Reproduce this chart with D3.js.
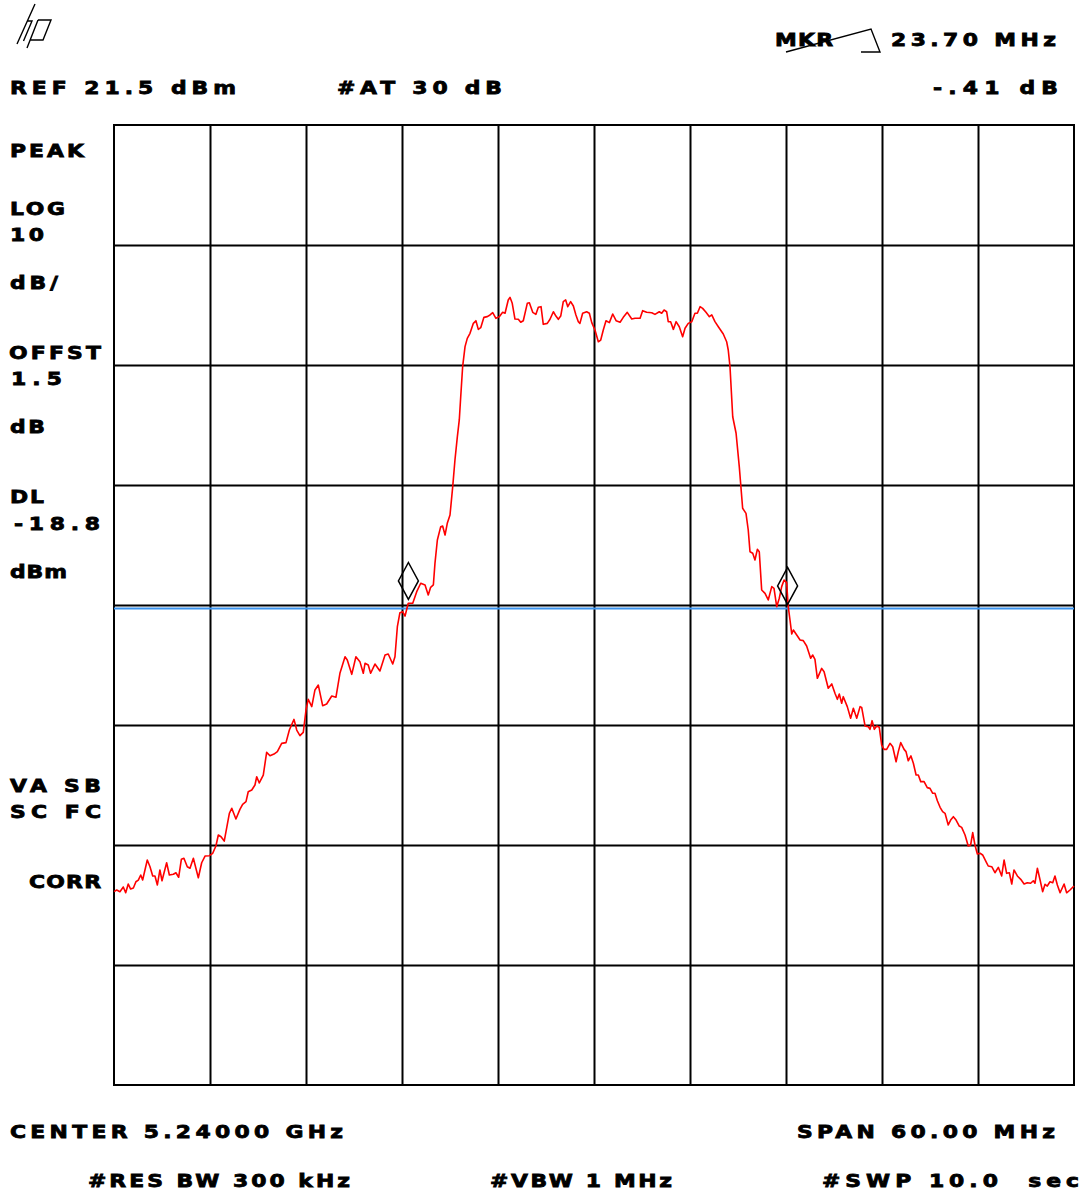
<!DOCTYPE html>
<html>
<head>
<meta charset="utf-8">
<script src="https://cdn.jsdelivr.net/npm/d3@7"></script>
<style>
  html, body { margin: 0; padding: 0; background: #fff; }
  svg { display: block; }
  .lbl { font-family: "DejaVu Sans", sans-serif; font-weight: bold; font-size: 17.5px; fill: #000; stroke: #000; stroke-width: 0.8; white-space: pre; }
</style>
</head>
<body>
<svg id="chart"></svg>
<script>
// analyzer settings
const refLevel = 21.5;      // dBm, top graticule line
const dbPerDiv = 10;
const levelDivs = 8;
const centerGHz = 5.24;
const spanMHz = 60;
const displayLine = -18.8;  // dBm

// graticule lines (offset from centre, MHz) and level lines (dBm)
const freqGridMHz = [-24, -18, -12, -6, 0, 6, 12, 18, 24];
const levelGridDbm = [11.5, 1.5, -8.5, -18.5, -28.5, -38.5, -48.5];

// delta markers
const markerOffsetMHz = [-11.6, 12.1];
const markerLevelDbm = [-18.04, -18.45];

// trace: offset from centre (MHz) and level (dBm)
const traceOffsetMHz = [
  -30.00, -29.83, -29.63, -29.42, -29.27, -29.11, -28.96, -28.79, -28.63, -28.48,
  -28.33, -28.21, -27.92, -27.75, -27.58, -27.44, -27.29, -27.13, -27.00, -26.71,
  -26.54, -26.29, -26.13, -25.96, -25.79, -25.63, -25.42, -25.25, -25.04, -24.73,
  -24.52, -24.31, -24.04, -23.83, -23.63, -23.48, -23.31, -23.11, -22.79, -22.64,
  -22.38, -22.13, -21.96, -21.75, -21.61, -21.39, -21.19, -21.08, -20.92, -20.67,
  -20.46, -20.25, -20.00, -19.79, -19.52, -19.25, -19.04, -18.75, -18.58, -18.38,
  -18.17, -18.00, -17.86, -17.64, -17.44, -17.23, -16.96, -16.71, -16.39, -16.13,
  -15.88, -15.56, -15.42, -15.14, -14.88, -14.63, -14.42, -14.31, -14.11, -13.96,
  -13.69, -13.38, -13.06, -12.86, -12.58, -12.44, -12.29, -12.13, -11.96, -11.81,
  -11.61, -11.33, -11.08, -10.83, -10.56, -10.36, -10.21, -10.04, -9.94, -9.79,
  -9.58, -9.46, -9.31, -9.17, -9.00, -8.83, -8.69, -8.54, -8.42, -8.33,
  -8.21, -8.06, -7.92, -7.75, -7.54, -7.38, -7.23, -7.08, -6.88, -6.67,
  -6.50, -6.33, -6.13, -5.92, -5.71, -5.56, -5.36, -5.25, -5.11, -4.94,
  -4.73, -4.58, -4.42, -4.17, -4.04, -3.83, -3.63, -3.48, -3.31, -3.17,
  -2.92, -2.75, -2.54, -2.38, -2.23, -2.08, -1.92, -1.77, -1.64, -1.46,
  -1.29, -1.13, -0.98, -0.88, -0.71, -0.46, -0.29, -0.14, 0.06, 0.27,
  0.42, 0.58, 0.75, 0.96, 1.17, 1.38, 1.63, 1.83, 2.08, 2.36,
  2.56, 2.88, 3.04, 3.29, 3.61, 3.81, 4.08, 4.23, 4.38, 4.54,
  4.64, 4.79, 4.96, 5.13, 5.33, 5.54, 5.69, 5.89, 6.11, 6.31,
  6.46, 6.63, 6.79, 7.00, 7.21, 7.36, 7.56, 7.77, 8.08, 8.29,
  8.39, 8.50, 8.67, 8.88, 9.08, 9.29, 9.50, 9.64, 9.75, 9.92,
  10.06, 10.21, 10.33, 10.48, 10.69, 10.89, 11.11, 11.25, 11.42, 11.58,
  11.73, 11.88, 12.04, 12.14, 12.25, 12.36, 12.46, 12.67, 12.88, 13.08,
  13.29, 13.54, 13.67, 13.81, 13.96, 14.23, 14.38, 14.64, 14.86, 15.06,
  15.21, 15.33, 15.48, 15.58, 15.83, 16.04, 16.21, 16.42, 16.63, 16.73,
  16.94, 17.14, 17.25, 17.38, 17.52, 17.67, 17.83, 17.98, 18.13, 18.29,
  18.50, 18.67, 18.88, 19.02, 19.17, 19.38, 19.50, 19.64, 19.81, 19.96,
  20.13, 20.27, 20.42, 20.63, 20.83, 21.00, 21.17, 21.31, 21.46, 21.63,
  21.79, 21.94, 22.14, 22.29, 22.46, 22.63, 22.83, 22.98, 23.19, 23.39,
  23.54, 23.67, 23.81, 23.96, 24.13, 24.29, 24.50, 24.64, 24.86, 25.06,
  25.27, 25.48, 25.63, 25.79, 25.96, 26.11, 26.25, 26.46, 26.67, 26.88,
  27.08, 27.29, 27.46, 27.56, 27.71, 27.88, 28.04, 28.19, 28.33, 28.50,
  28.67, 28.81, 28.96, 29.13, 29.38, 29.54, 29.75, 30.00
];
const traceLevelDbm = [
  -42.39, -42.25, -42.39, -42.00, -42.48, -41.75, -42.17, -42.08, -41.56, -41.42,
  -41.00, -41.42, -39.75, -40.31, -41.08, -41.08, -41.83, -40.58, -41.48, -39.98,
  -41.00, -40.94, -40.81, -41.19, -39.69, -39.61, -40.31, -40.44, -39.61, -41.23,
  -39.98, -39.42, -39.39, -39.19, -38.58, -37.67, -37.81, -38.17, -35.86, -35.44,
  -36.33, -35.53, -35.11, -34.89, -34.06, -33.92, -33.50, -32.81, -33.33, -32.67,
  -30.78, -31.06, -30.92, -30.72, -30.03, -29.97, -28.92, -28.03, -28.92, -29.39,
  -29.11, -27.25, -26.36, -26.97, -25.58, -25.17, -26.89, -26.75, -26.08, -26.19,
  -24.19, -22.81, -23.08, -24.28, -22.81, -23.22, -24.19, -23.36, -23.50, -24.19,
  -23.42, -24.00, -22.67, -22.58, -23.42, -22.81, -20.31, -19.14, -19.06, -19.42,
  -18.36, -18.36, -17.39, -16.69, -16.83, -17.67, -17.03, -16.83, -15.03, -13.08,
  -11.97, -11.92, -12.67, -11.69, -11.00, -8.64, -6.42, -4.47, -3.08, -1.14,
  1.36, 3.03, 3.72, 4.14, 4.97, 5.19, 4.47, 4.61, 5.47, 5.53,
  5.67, 5.86, 5.39, 5.53, 5.89, 5.81, 6.92, 7.14, 6.64, 5.33,
  5.31, 5.06, 5.19, 6.64, 6.69, 5.89, 5.72, 6.31, 6.36, 4.89,
  4.97, 5.31, 5.94, 5.58, 5.31, 5.58, 6.78, 6.92, 6.36, 6.78,
  6.42, 5.67, 5.11, 4.97, 5.81, 5.94, 5.81, 5.03, 4.42, 3.44,
  3.58, 4.42, 5.19, 5.03, 5.75, 5.19, 5.06, 5.47, 5.89, 5.33,
  5.39, 5.39, 6.03, 5.89, 5.86, 5.72, 5.94, 5.81, 6.08, 5.94,
  5.11, 5.11, 4.47, 5.11, 4.69, 3.86, 4.56, 4.97, 5.11, 5.81,
  5.81, 6.36, 6.22, 5.89, 5.53, 5.67, 5.11, 4.69, 4.08, 3.44,
  2.75, 1.36, -2.81, -4.19, -6.97, -10.44, -10.86, -12.25, -14.06, -14.19,
  -14.75, -13.86, -14.06, -17.25, -17.53, -18.08, -16.97, -17.11, -18.64, -17.94,
  -16.97, -16.42, -16.64, -18.64, -19.75, -20.92, -20.58, -21.00, -21.42, -21.47,
  -21.92, -22.94, -22.67, -23.03, -24.61, -23.78, -24.06, -25.44, -25.08, -25.86,
  -26.36, -25.92, -26.69, -26.14, -26.97, -27.94, -27.11, -27.94, -26.97, -27.03,
  -28.58, -28.64, -28.86, -28.14, -28.86, -28.58, -28.69, -30.17, -30.53, -30.53,
  -30.03, -30.31, -31.56, -30.72, -29.97, -30.53, -30.72, -31.48, -31.08, -31.69,
  -32.67, -32.67, -33.22, -33.22, -33.72, -33.78, -34.19, -34.19, -34.81, -35.36,
  -35.72, -35.86, -36.83, -36.42, -36.14, -36.42, -36.92, -37.03, -37.67, -38.58,
  -38.50, -37.47, -38.50, -39.25, -39.19, -39.33, -39.89, -40.25, -40.31, -40.81,
  -40.36, -41.08, -39.75, -40.86, -40.81, -41.75, -40.58, -41.08, -41.36, -41.75,
  -41.64, -41.69, -41.48, -41.69, -40.44, -41.42, -42.39, -41.78, -41.92, -41.56,
  -41.64, -41.08, -41.83, -42.48, -41.75, -42.48, -42.25, -41.92
];

const W = 1084, H = 1191;
const plot = {left: 114, right: 1074, top: 125, bottom: 1085};
const stretch = 1.25;   // the analyzer font is wider than anything installed

const svg = d3.select("#chart")
    .attr("width", W)
    .attr("height", H);

svg.append("rect").attr("width", W).attr("height", H).attr("fill", "#fff");

var x = d3.scaleLinear()
    .domain([-spanMHz / 2, spanMHz / 2])
    .range([plot.left, plot.right]);

var y = d3.scaleLinear()
    .domain([refLevel - dbPerDiv * levelDivs, refLevel])
    .range([plot.bottom, plot.top]);

// graticule
var gx = svg.append("g")
    .attr("transform", "translate(0," + plot.bottom + ")")
    .call(d3.axisBottom(x).tickValues(freqGridMHz).tickSize(-(plot.bottom - plot.top)).tickFormat(""));
gx.select(".domain").remove();
gx.selectAll("line").attr("stroke", "#000").attr("stroke-width", 2);

var gy = svg.append("g")
    .attr("transform", "translate(" + plot.left + ",0)")
    .call(d3.axisLeft(y).tickValues(levelGridDbm).tickSize(-(plot.right - plot.left)).tickFormat(""));
gy.select(".domain").remove();
gy.selectAll("line").attr("stroke", "#000").attr("stroke-width", 2);

svg.append("rect")
    .attr("x", plot.left).attr("y", plot.top)
    .attr("width", plot.right - plot.left).attr("height", plot.bottom - plot.top)
    .attr("fill", "none").attr("stroke", "#000").attr("stroke-width", 2);

// display line
svg.append("line")
    .attr("x1", plot.left).attr("x2", plot.right)
    .attr("y1", y(displayLine)).attr("y2", y(displayLine))
    .attr("stroke", "#3b93ee").attr("stroke-width", 2);

// trace
var trace = traceOffsetMHz.map(function(f, i) { return {f: f, level: traceLevelDbm[i]}; });
var line = d3.line()
    .x(function(d) { return x(d.f); })
    .y(function(d) { return y(d.level); });

svg.append("path")
    .datum(trace)
    .attr("fill", "none")
    .attr("stroke", "#ff0000")
    .attr("stroke-width", 1.6)
    .attr("stroke-linejoin", "round")
    .attr("d", line);

// marker diamonds, bottom tip sits on the marker level
svg.selectAll(".mkr")
    .data(markerOffsetMHz)
    .enter().append("path")
    .attr("class", "mkr")
    .attr("fill", "none")
    .attr("stroke", "#000")
    .attr("stroke-width", 1.5)
    .attr("d", function(f, i) {
        var cx = x(f), by = y(markerLevelDbm[i]);
        return "M" + cx + "," + by + "L" + (cx + 10) + "," + (by - 18.5) +
               "L" + cx + "," + (by - 37) + "L" + (cx - 10) + "," + (by - 18.5) + "Z";
    });

// hp logo
svg.append("path")
    .attr("d", "M35,4L17,44 M27,21L32,21L23.5,41 M38,20L27,48 M38,20L51,20L43,40L30.5,40")
    .attr("fill", "none").attr("stroke", "#000").attr("stroke-width", 1.4);

// delta symbol through MKR
svg.append("path")
    .attr("d", "M786,52L871,29L880,52L861,52")
    .attr("fill", "none").attr("stroke", "#000").attr("stroke-width", 1.4);

var deltaMHz = (markerOffsetMHz[1] - markerOffsetMHz[0]).toFixed(2);
var deltaDb = (markerLevelDbm[1] - markerLevelDbm[0]).toFixed(2).replace("0.", ".");

// screen annotations: [text, x, baseline, width]
var labels = [
    ["MKR", 775, 46, 58],
    [deltaMHz + " MHz", 891, 46, 165],
    ["REF " + refLevel + " dBm", 10, 94, 226],
    ["#AT 30 dB", 337, 94, 165],
    [deltaDb + " dB", 933, 94, 125],
    ["PEAK", 10, 157, 74],
    ["LOG", 10, 215, 55],
    [String(dbPerDiv), 10, 241, 34],
    ["dB/", 10, 289, 48],
    ["OFFST", 9, 359, 92],
    ["1.5", 11, 385, 51],
    ["dB", 10, 433, 35],
    ["DL", 10, 503, 34],
    [String(displayLine), 14, 530, 86],
    ["dBm", 10, 578, 57],
    ["VA SB", 10, 792, 91],
    ["SC FC", 10, 818, 91],
    ["CORR", 29, 888, 72],
    ["CENTER " + centerGHz.toFixed(5) + " GHz", 10, 1138, 333],
    ["SPAN " + spanMHz.toFixed(2) + " MHz", 797, 1138, 258],
    ["#RES BW 300 kHz", 88, 1187, 262],
    ["#VBW 1 MHz", 490, 1187, 182],
    ["#SWP 10.0  sec", 822, 1187, 257]
];

svg.selectAll(".lbl")
    .data(labels)
    .enter().append("text")
    .attr("class", "lbl")
    .attr("transform", function(d) { return "translate(" + d[1] + "," + d[2] + ") scale(" + stretch + ",1)"; })
    .attr("textLength", function(d) { return d[3] / stretch; })
    .attr("lengthAdjust", "spacing")
    .text(function(d) { return d[0]; });
</script>
</body>
</html>
